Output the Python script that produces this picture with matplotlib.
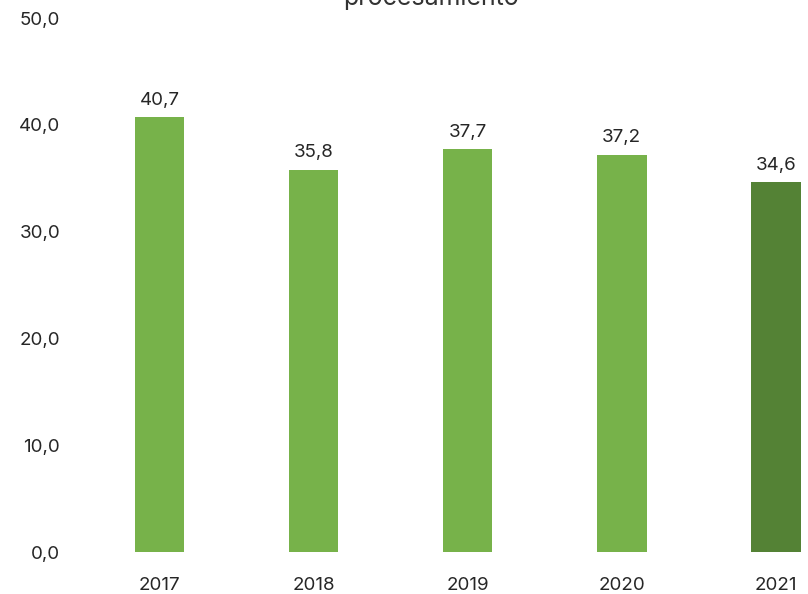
import matplotlib.pyplot as plt

plt.rcParams['font.family'] = ['Inter', 'DejaVu Sans']

# datos
years = ['2017', '2018', '2019', '2020', '2021']
values = [40.7, 35.8, 37.7, 37.2, 34.6]
colors = ['#77B24A', '#77B24A', '#77B24A', '#77B24A', '#548235']
yticks = [0, 10, 20, 30, 40, 50]

fig = plt.figure(figsize=(8.08, 5.94), dpi=100)
# el gráfico original está recortado a la derecha y arriba
ax = fig.add_axes([82.5 / 808, 1 - 552 / 594, (853 - 82.5) / 808, (552 - 18) / 594])

x = range(len(years))
bars = ax.bar(x, values, width=0.32, color=colors)

for xi, v in zip(x, values):
    ax.annotate(f'{v:.1f}'.replace('.', ','), (xi, v), xytext=(0, 6),
                textcoords='offset points', ha='center', va='bottom',
                fontsize=13.5, color='#262626')

ax.set_xlim(-0.5, 4.5)
ax.set_ylim(0, 50)
ax.set_xticks(list(x))
ax.set_xticklabels(years, fontsize=13.5, color='#262626')
ax.set_yticks(yticks)
ax.set_yticklabels([f'{t:.1f}'.replace('.', ',') for t in yticks], fontsize=13.5, color='#262626')
ax.tick_params(length=0, pad=18)
ax.tick_params(axis='y', pad=16)
for s in ax.spines.values():
    s.set_visible(False)

fig.text(431 / 808, 1 - 5 / 594, 'procesamiento', ha='center', va='baseline',
         fontsize=18, color='#333333')

fig.savefig('out.png', dpi=100)
